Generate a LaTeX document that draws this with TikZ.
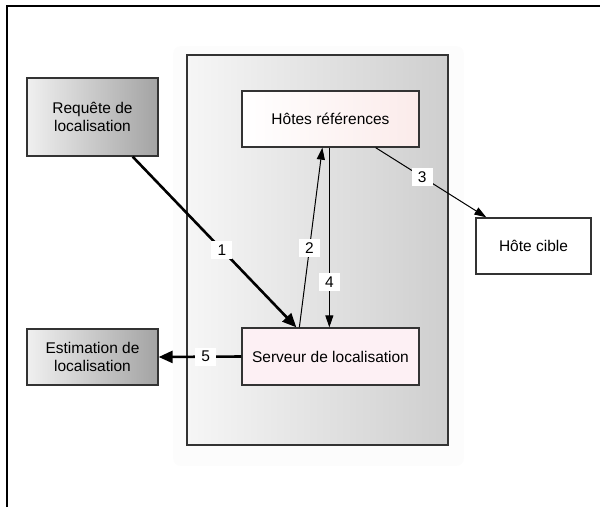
\documentclass[tikz,border=0pt]{standalone}
\usepackage{fontspec}
\setmainfont{Liberation Sans}
\usetikzlibrary{arrows.meta,calc}

\definecolor{framegray}{HTML}{333333}
\definecolor{pinkA}{HTML}{FBEBEA}
\definecolor{pinkB}{HTML}{FDF0F4}

\tikzset{
  box/.style={draw=framegray, line width=1.3pt, inner sep=0pt, align=center,
    font=\fontsize{15.5}{18.5}\selectfont},
  greybox/.style={box, left color=gray!12, right color=gray!72},
  num/.style={fill=white, inner sep=0pt, minimum width=21pt, minimum height=18pt,
    font=\fontsize{15.5}{15.5}\selectfont},
  thinarrow/.style={line width=1pt, -{Triangle[length=12pt,width=8pt]}},
  thickarrow/.style={line width=2.6pt, -{Triangle[length=14pt,width=12pt]}},
}

\begin{document}
\begin{tikzpicture}[x=1pt,y=-1pt]
  \useasboundingbox (0,0) rectangle (600,507);

  % open outer frame (left and top sides only)
  \draw[line width=1.5pt, black] (7,507) -- (7,6) -- (600,6);

  % soft halo and the shaded grey container
  \fill[gray!2, rounded corners=8pt] (173,46) rectangle (464,466);
  \node[draw=framegray, line width=1.3pt, left color=gray!7, right color=gray!38,
        minimum width=261pt, minimum height=390pt, inner sep=0pt]
        (zone) at (317.5,250) {};

  % boxes
  \node[greybox, minimum width=131pt, minimum height=78pt] (req) at (92.5,117)
        {Requête de\\localisation};
  \node[greybox, minimum width=131pt, minimum height=56pt] (est) at (92.5,357)
        {Estimation de\\localisation};
  \node[box, left color=white, right color=pinkA, minimum width=177pt, minimum height=56pt]
        (hotes) at (330.5,119) {Hôtes références};
  \node[box, fill=pinkB, minimum width=177pt, minimum height=57pt]
        (serv) at (330.5,356.5) {Serveur de localisation};
  \node[box, fill=white, minimum width=115pt, minimum height=56pt]
        (cible) at (533.5,246) {Hôte cible};

  % end points on the box edges
  \coordinate (r1) at ($(req.south east)+(-26,0)$);
  \coordinate (s1) at ($(serv.north west)+(55,0)$);
  \coordinate (s2) at ($(serv.north west)+(58,0)$);
  \coordinate (h2) at ($(hotes.south west)+(81,0)$);
  \coordinate (h4) at ($(hotes.south west)+(88,0)$);
  \coordinate (s4) at ($(serv.north west)+(88,0)$);
  \coordinate (h3) at ($(hotes.south east)+(-44,0)$);
  \coordinate (c3) at ($(cible.north west)+(11,0)$);

  % connectors with their step numbers
  \draw[thickarrow] (r1) -- node[num, pos=0.545] {1} (s1);
  \draw[thinarrow] (s2) -- node[num, pos=0.44] {2} (h2);
  \draw[thinarrow] (h3) -- node[num, pos=0.42] {3} (c3);
  \draw[thinarrow] (h4) -- node[num, pos=0.75] {4} (s4);
  \draw[thickarrow] (serv.west) -- node[num, pos=0.43] {5} (est.east);
\end{tikzpicture}
\end{document}
